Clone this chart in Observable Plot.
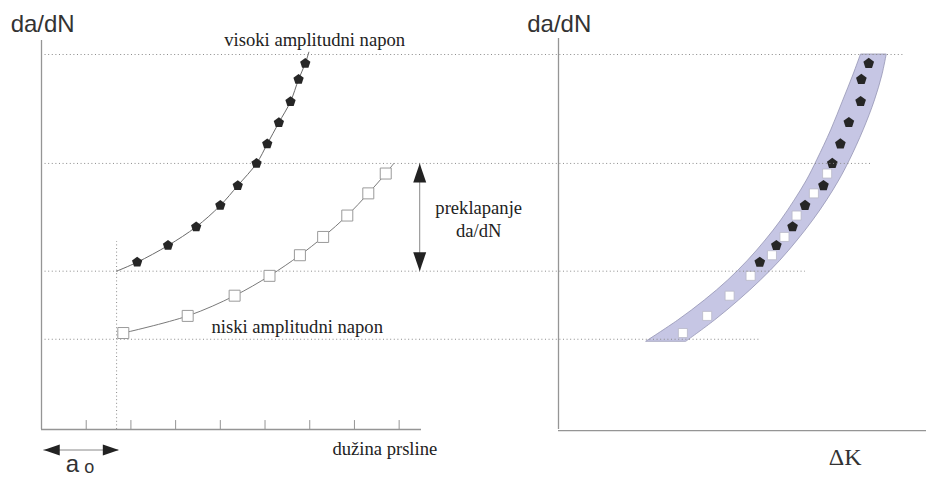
<!DOCTYPE html>
<html><head><meta charset="utf-8">
<script src="https://cdn.jsdelivr.net/npm/d3@7"></script>
<script src="https://cdn.jsdelivr.net/npm/@observablehq/plot@0.6"></script>
<style>
html,body{margin:0;padding:0;background:#fff;}
#chart{position:relative;width:926px;height:477px;overflow:hidden;background:#fff;}
#chart svg{position:absolute;left:0;top:0;overflow:visible;background:transparent;}
</style></head><body><div id="chart"></div>
<script>
// ---------- data ----------
const a0 = 1.68;                               // initial crack length
const aTicks = [1, 2, 3, 4, 5, 6, 7, 8];
const guideDadN = [96.4, 68.4, 40.7, 23.2];    // dotted da/dN guide levels
const guideEndDK = [9.38, 8.53, 6.71, 5.49];   // where each guide stops (ΔK units)

// high stress amplitude (pentagons)
const aHigh    = [2.14, 2.83, 3.46, 4.00, 4.39, 4.81, 5.05, 5.31, 5.57, 5.75, 5.90];
const dkHigh   = [5.47, 5.92, 6.36, 6.70, 7.20, 7.44, 7.66, 7.89, 8.21, 8.23, 8.43];
const dadnHigh = [43.0, 47.3, 52.1, 57.6, 62.7, 68.4, 73.4, 78.9, 84.3, 90.0, 94.1];
const highStart = [a0, 40.7];
const highEnd = [5.98, 97.0];

// low stress amplitude (squares)
const aLow    = [1.83, 3.27, 4.32, 5.10, 5.78, 6.30, 6.84, 7.31, 7.70];
const dkLow   = [3.38, 4.04, 4.65, 5.22, 5.80, 6.14, 6.47, 6.94, 7.30];
const dadnLow = [24.8, 29.2, 34.4, 39.5, 44.8, 49.5, 55.0, 60.7, 65.8];
const lowEnd = [7.88, 68.4];

// scatter band in the da/dN – ΔK diagram
const bandDadN = [22.6, 28.0, 33.2, 38.3, 43.4, 48.6, 53.7, 58.9, 64.0, 69.2, 76.9, 84.6, 91.0, 96.4];
const bandDkLo = [2.39, 3.25, 3.98, 4.61, 5.15, 5.63, 6.05, 6.42, 6.75, 7.03, 7.41, 7.74, 8.01, 8.22];
const bandDkHi = [3.48, 4.25, 4.91, 5.50, 6.03, 6.50, 6.92, 7.30, 7.63, 7.92, 8.29, 8.60, 8.80, 8.92];

// ---------- helpers ----------
const SERIF = "'Liberation Serif', 'Times New Roman', serif";
const SANS = "'Liberation Sans', Arial, sans-serif";
const AXIS = "#959595";
const DOTS = "#8a8a8a";

const pentagon = {
  draw(ctx, size) {
    const r = Math.sqrt(size / Math.PI);
    for (let k = 0; k < 5; k++) {
      const t = -Math.PI / 2 + k * 2 * Math.PI / 5;
      const px = r * Math.cos(t), py = r * Math.sin(t);
      if (k === 0) ctx.moveTo(px, py); else ctx.lineTo(px, py);
    }
    ctx.closePath();
  }
};
function head(len, wid) {
  return {draw(ctx) { ctx.moveTo(0, 0); ctx.lineTo(wid / 2, len); ctx.lineTo(-wid / 2, len); ctx.closePath(); }};
}

const xLeft = {domain: [0, 8.5], range: [41, 421]};
const xRight = {domain: [0, 10], range: [558, 926]};
const yAll = {domain: [0, 100], range: [429, 40]};
const lx = Plot.scale({x: xLeft});
const rx = Plot.scale({x: xRight});
const dkToA = (dk) => lx.invert(rx.apply(dk));

const pts = (xs, ys) => xs.map((x, i) => ({x, y: ys[i]}));
const highLeft = pts(aHigh, dadnHigh);
const lowLeft = pts(aLow, dadnLow);
const highLine = [{x: highStart[0], y: highStart[1]}, ...highLeft, {x: highEnd[0], y: highEnd[1]}];
const lowLine = [...lowLeft, {x: lowEnd[0], y: lowEnd[1]}];
const highRight = pts(dkHigh, dadnHigh);
const lowRight = pts(dkLow, dadnLow);
const band = bandDadN.map((y, i) => ({y, lo: bandDkLo[i], hi: bandDkHi[i]}));

// ---------- right panel: da/dN vs ΔK ----------
const right = Plot.plot({
  width: 926, height: 477,
  x: {...xRight, axis: null},
  y: {...yAll, axis: null},
  marks: [
    Plot.ruleX([0], {y1: 0, y2: 100.5, stroke: AXIS, strokeWidth: 1.3}),
    Plot.ruleY([-0.3], {x1: 0, x2: 10, stroke: AXIS, strokeWidth: 1.3}),
    Plot.areaX(band, {y: "y", x1: "lo", x2: "hi", curve: "catmull-rom", fill: "#c6c6e4", stroke: "#9494b4", strokeWidth: 0.8}),
    Plot.dot(lowRight, {x: "x", y: "y", symbol: "square", r: 5.1, fill: "#fff", stroke: "#b8b8c8", strokeWidth: 0.8}),
    Plot.dot(highRight, {x: "x", y: "y", symbol: pentagon, r: 5.6, fill: "#262626"}),
    Plot.text(["da/dN"], {x: -0.85, y: 102.1, text: d => d, textAnchor: "start", lineAnchor: "bottom", fontSize: 24, fontFamily: SANS, fill: "#333"}),
    Plot.text(["ΔK"], {x: 7.79, y: -9.07, text: d => d, textAnchor: "middle", lineAnchor: "bottom", fontSize: 24, fontFamily: SERIF, fill: "#333"})
  ]
});

// ---------- left panel: da/dN vs crack length ----------
const serifNotes = [
  {t: "visoki amplitudni napon", x: 6.11, y: 98.6},
  {t: "niski amplitudni napon", x: 5.72, y: 24.8},
  {t: "preklapanje", x: 9.78, y: 55.3},
  {t: "da/dN", x: 9.78, y: 49.6},
  {t: "dužina prsline", x: 7.68, y: -6.68}
];
const left = Plot.plot({
  width: 926, height: 477,
  x: {...xLeft, axis: null},
  y: {...yAll, axis: null},
  marks: [
    Plot.ruleY(guideDadN, {y: d => d, x1: 0.08, x2: (d, i) => dkToA(guideEndDK[i]), stroke: DOTS, strokeWidth: 1, strokeDasharray: "1,2.6"}),
    Plot.ruleX([a0], {y1: 0, y2: 48.3, stroke: DOTS, strokeWidth: 1, strokeDasharray: "1,2.6"}),
    Plot.ruleX([0], {y1: 0, y2: 100, stroke: AXIS, strokeWidth: 1.3}),
    Plot.ruleY([0], {x1: 0, x2: 8.5, stroke: AXIS, strokeWidth: 1.3}),
    Plot.ruleX(aTicks, {x: d => d, y1: 0, y2: 2.3, stroke: AXIS, strokeWidth: 1}),
    Plot.line(highLine, {x: "x", y: "y", curve: "catmull-rom", stroke: "#6a6a6a", strokeWidth: 1}),
    Plot.line(lowLine, {x: "x", y: "y", curve: "catmull-rom", stroke: "#7a7a7a", strokeWidth: 1}),
    Plot.dot(lowLeft, {x: "x", y: "y", symbol: "square", r: 6.2, fill: "#fff", stroke: "#9a9a9a", strokeWidth: 1}),
    Plot.dot(highLeft, {x: "x", y: "y", symbol: pentagon, r: 5.4, fill: "#262626"}),
    // overlap arrow
    Plot.ruleX([8.46], {y1: 40.7, y2: 68.4, stroke: "#888", strokeWidth: 1}),
    Plot.dot([{y: 68.4, r: 0}, {y: 40.7, r: 180}], {x: 8.46, y: "y", rotate: "r", symbol: head(19, 13), r: 5, fill: "#222"}),
    // a0 arrow
    Plot.ruleY([-5.27], {x1: 0.05, x2: 1.73, stroke: "#888", strokeWidth: 1}),
    Plot.dot([{x: 0.05, r: -90}, {x: 1.73, r: 90}], {x: "x", y: -5.27, rotate: "r", symbol: head(16, 11), r: 5, fill: "#222"}),
    Plot.text(serifNotes, {x: "x", y: "y", text: "t", textAnchor: "middle", lineAnchor: "bottom", fontSize: 18.6, fontFamily: SERIF, fill: "#222"}),
    Plot.text(["da/dN"], {x: -0.69, y: 102.1, text: d => d, textAnchor: "start", lineAnchor: "bottom", fontSize: 24, fontFamily: SANS, fill: "#333"}),
    Plot.text(["a"], {x: 0.69, y: -10.8, text: d => d, textAnchor: "middle", lineAnchor: "bottom", fontSize: 24, fontFamily: SANS, fill: "#333"}),
    Plot.text(["o"], {x: 1.07, y: -11.2, text: d => d, textAnchor: "middle", lineAnchor: "bottom", fontSize: 18, fontFamily: SANS, fill: "#333"})
  ]
});

const host = document.getElementById("chart");
host.appendChild(right);
host.appendChild(left);
</script></body></html>
